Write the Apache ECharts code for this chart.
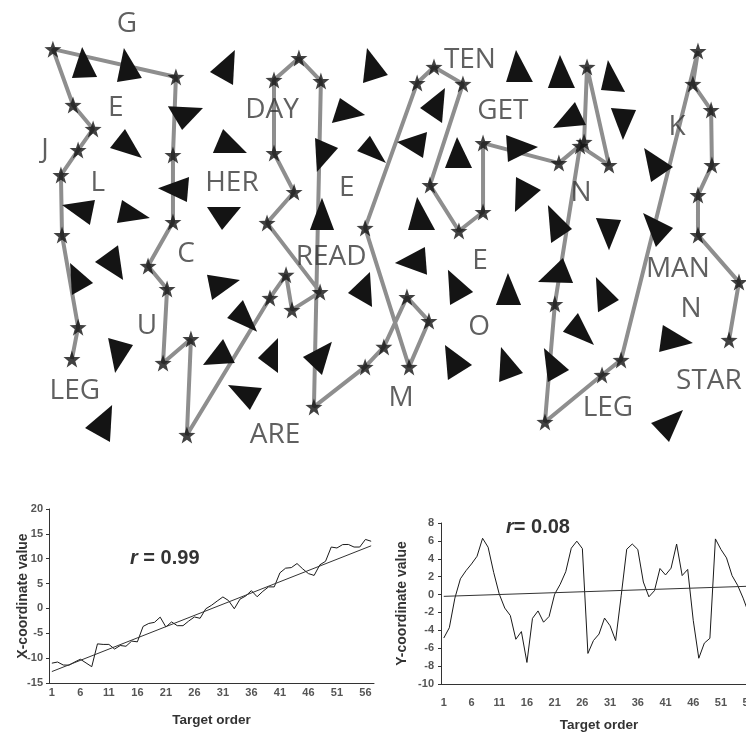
<!DOCTYPE html>
<html><head><meta charset="utf-8">
<script src="https://cdn.jsdelivr.net/npm/echarts@6/dist/echarts.min.js"></script>
<style>html,body{margin:0;padding:0;background:#fff}#c{width:746px;height:736px}</style>
</head><body><div id="c"></div>
<script>
// Target order (categories)
const targetOrder = ['1','2','3','4','5','6','7','8','9','10','11','12','13','14','15','16','17','18','19','20',
  '21','22','23','24','25','26','27','28','29','30','31','32','33','34','35','36','37','38','39','40',
  '41','42','43','44','45','46','47','48','49','50','51','52','53','54','55','56','57'];
// X-coordinate value of each target, in order
const targetX = [-11.01,-10.78,-11.38,-11.42,-10.78,-10.22,-10.97,-11.72,-7.13,-7.24,-7.24,-8.17,-7.46,-7.61,-6.57,-6.72,
  -3.62,-3.02,-2.80,-1.75,-3.73,-2.72,-3.47,-3.47,-2.54,-1.72,-1.98,-0.07,0.63,1.49,2.31,1.57,-0.07,1.87,2.50,3.58,
  2.35,3.43,4.33,4.33,7.16,8.10,8.21,9.03,7.95,7.01,6.64,8.77,9.48,12.35,12.16,12.84,12.87,12.35,12.35,13.88,13.51];
// Y-coordinate value of each target, in order
const targetY = [-4.86,-3.71,-0.40,1.76,2.66,3.42,4.28,6.29,5.29,2.48,0.07,-1.51,-2.34,-5.00,-4.14,-7.59,
  -2.66,-1.83,-3.09,-2.45,0.04,1.15,2.55,5.18,5.97,5.14,-6.58,-5.14,-4.42,-2.63,-3.49,-5.14,-0.14,5.07,5.65,5.04,
  1.40,-0.25,0.43,2.91,2.19,2.95,5.65,2.12,2.81,-2.88,-7.12,-5.43,-4.89,6.22,5.04,4.10,2.12,1.04,-0.40,-2.09,-4.17];
// Distractor triangles: three vertices [x1,y1,x2,y2,x3,y3] in display coordinates
const triangles = [
  [-10.63,6.37,-11.01,5.25,-10.07,5.29],
  [-9.07,6.33,-9.33,5.11,-8.40,5.25],
  [-4.93,6.26,-5.86,5.47,-5.00,5.00],
  [-7.43,4.24,-6.12,4.17,-6.90,3.38],
  [-9.03,3.42,-9.59,2.73,-8.40,2.37],
  [-5.37,3.42,-5.75,2.55,-4.48,2.55],
  [-7.80,1.29,-6.64,1.69,-6.72,0.79],
  [-11.38,0.68,-10.15,0.86,-10.34,-0.04],
  [-9.14,0.86,-9.33,0.04,-8.10,0.22],
  [-5.97,0.61,-4.70,0.61,-5.41,-0.22],
  [0.00,6.33,0.78,5.36,-0.15,5.07],
  [-1.01,4.53,-0.07,3.92,-1.31,3.63],
  [-1.94,3.09,-1.08,2.73,-1.87,1.87],
  [0.11,3.17,-0.37,2.63,0.71,2.19],
  [-1.68,0.94,-2.13,-0.22,-1.23,-0.22],
  [2.91,4.89,1.98,4.17,2.80,3.63],
  [2.24,3.31,1.12,2.95,2.09,2.37],
  [3.36,3.13,2.91,2.01,3.92,2.01],
  [1.87,0.97,1.53,-0.22,2.54,-0.22],
  [5.56,6.26,5.19,5.11,6.19,5.11],
  [7.20,6.08,6.75,4.89,7.76,4.89],
  [8.99,5.90,8.73,4.82,9.63,4.75],
  [7.76,4.39,6.94,3.45,8.17,3.56],
  [9.10,4.17,10.04,4.10,9.55,3.02],
  [5.19,3.20,6.38,2.77,5.26,2.23],
  [5.56,1.69,6.49,1.22,5.52,0.43],
  [6.75,0.68,7.65,-0.18,6.87,-0.68],
  [8.54,0.22,9.48,0.14,9.03,-0.94],
  [10.34,2.73,11.42,2.05,10.60,1.51],
  [10.30,0.40,11.42,-0.14,10.78,-0.83],
  [7.31,-1.22,6.38,-2.09,7.69,-2.12],
  [5.26,-1.76,4.81,-2.91,5.75,-2.91],
  [8.54,-1.91,9.40,-2.73,8.62,-3.17],
  [7.87,-3.20,7.31,-3.88,8.47,-4.35],
  [5.00,-4.42,5.82,-5.36,4.93,-5.68],
  [6.60,-4.46,7.54,-5.25,6.75,-5.68],
  [11.04,-3.63,12.16,-4.28,10.90,-4.60],
  [11.79,-6.69,10.60,-7.16,11.27,-7.84],
  [0.11,-1.73,-0.71,-2.48,0.19,-2.99],
  [2.16,-0.83,1.04,-1.40,2.24,-1.83],
  [3.02,-1.65,3.96,-2.45,3.10,-2.91],
  [-3.32,-4.10,-4.07,-4.82,-3.32,-5.36],
  [-1.31,-4.24,-2.39,-4.78,-1.68,-5.43],
  [2.91,-4.35,3.92,-5.07,3.02,-5.61],
  [-11.08,-1.40,-10.22,-2.12,-11.01,-2.55],
  [-9.29,-0.76,-10.15,-1.37,-9.10,-2.01],
  [-9.66,-4.10,-8.73,-4.35,-9.40,-5.36],
  [-9.51,-6.51,-10.52,-7.34,-9.59,-7.84],
  [-5.97,-1.83,-4.74,-2.01,-5.78,-2.73],
  [-4.63,-2.73,-5.22,-3.38,-4.10,-3.88],
  [-5.37,-4.14,-6.12,-5.07,-4.93,-5.00],
  [-5.19,-5.79,-3.92,-5.90,-4.37,-6.69]
];
// Words printed in the display
const wordText = ['G','E','J','L','DAY','HER','E','C','U','LEG','ARE','READ','TEN','GET','N','K','E','M','O','MAN','N','STAR','LEG'];
const wordX = [-8.96,-9.37,-12.01,-10.04,-3.54,-5.04,-0.75,-6.75,-8.21,-10.90,-3.43,-1.34,3.84,5.07,7.99,11.57,4.22,1.27,4.18,11.60,12.09,12.76,8.99];
const wordY = [7.23,4.21,2.73,1.51,4.17,1.51,1.33,-1.01,-3.60,-5.94,-7.55,-1.15,5.97,4.10,1.15,3.56,-1.29,-6.22,-3.67,-1.58,-3.02,-5.58,-6.55];
// Linear trend lines
const trendXLine = [['1', -12.7], ['57', 12.6]];
const trendYLine = [['1', -0.2], ['57', 0.95]];
const rX = 'r = 0.99';
const rY = 'r= 0.08';

const STAR = 'path://M50,0 L61.76,33.82 L97.55,34.55 L69.02,56.18 L79.39,90.45 L50,70 L20.61,90.45 L30.98,56.18 L2.45,34.55 L38.24,33.82 Z';
const chart = echarts.init(document.getElementById('c'), null, {renderer: 'canvas'});
const pathData = targetX.map((x, i) => [x, targetY[i]]);
const wordData = wordX.map((x, i) => ({name: wordText[i], value: [x, wordY[i]]}));
const axisFont = 'Liberation Sans, Arial, sans-serif';
const tickLabel = {fontFamily: axisFont, fontSize: 11, fontWeight: 'bold', color: '#555'};
const nameStyle = {fontFamily: axisFont, fontSize: 14, fontWeight: 'bold', color: '#333'};

const option = {
  animation: false,
  backgroundColor: '#fff',
  title: [
    {text: '{i|r}' + rX.slice(1), left: 125, top: 543,
     textStyle: {fontFamily: axisFont, fontSize: 20, fontWeight: 'bold', color: '#333',
       rich: {i: {fontFamily: axisFont, fontSize: 20, fontWeight: 'bold', fontStyle: 'italic', color: '#333'}}}},
    {text: '{i|r}' + rY.slice(1), left: 501, top: 512,
     textStyle: {fontFamily: axisFont, fontSize: 20, fontWeight: 'bold', color: '#333',
       rich: {i: {fontFamily: axisFont, fontSize: 20, fontWeight: 'bold', fontStyle: 'italic', color: '#333'}}}}
  ],
  grid: [
    {left: 5.2, top: 1.6, width: 737, height: 458.7, outerBoundsMode: 'none'},
    {left: 49, top: 509, width: 325, height: 174, outerBoundsMode: 'none'},
    {left: 441, top: 523, width: 316, height: 161, outerBoundsMode: 'none'}
  ],
  xAxis: [
    {gridIndex: 0, type: 'value', min: -13.5, max: 14, show: false},
    {gridIndex: 1, type: 'category', data: targetOrder, boundaryGap: true,
     axisLine: {onZero: false, lineStyle: {color: '#333', width: 1}},
     axisTick: {interval: 0, length: 4, lineStyle: {color: '#333'}},
     axisLabel: Object.assign({interval: 4, margin: 4}, tickLabel),
     name: 'Target order', nameLocation: 'middle', nameGap: 30, nameMoveOverlap: false,
     nameTextStyle: Object.assign({}, nameStyle, {fontSize: 13.5})},
    {gridIndex: 2, type: 'category', data: targetOrder, boundaryGap: true,
     axisLine: {onZero: false, lineStyle: {color: '#333', width: 1}},
     axisTick: {interval: 0, length: 4, lineStyle: {color: '#333'}},
     axisLabel: Object.assign({interval: 4, margin: 13}, tickLabel),
     name: 'Target order', nameLocation: 'middle', nameGap: 34, nameMoveOverlap: false,
     nameTextStyle: Object.assign({}, nameStyle, {fontSize: 13.5})}
  ],
  yAxis: [
    {gridIndex: 0, type: 'value', min: -8.5, max: 8, show: false},
    {gridIndex: 1, type: 'value', min: -15, max: 20, interval: 5,
     axisLine: {show: true, onZero: false, lineStyle: {color: '#333'}}, axisTick: {show: true, length: 3, lineStyle: {color: '#333'}},
     splitLine: {show: false}, axisLabel: Object.assign({margin: 6}, tickLabel),
     name: 'X-coordinate value', nameLocation: 'middle', nameGap: 19, nameMoveOverlap: false, nameTextStyle: nameStyle},
    {gridIndex: 2, type: 'value', min: -10, max: 8, interval: 2,
     axisLine: {show: true, onZero: false, lineStyle: {color: '#333'}}, axisTick: {show: true, length: 3, lineStyle: {color: '#333'}},
     splitLine: {show: false}, axisLabel: Object.assign({margin: 7}, tickLabel),
     name: 'Y-coordinate value', nameLocation: 'middle', nameGap: 32, nameMoveOverlap: false, nameTextStyle: nameStyle}
  ],
  series: [
    {type: 'line', xAxisIndex: 0, yAxisIndex: 0, data: pathData, showSymbol: false, symbol: 'none', clip: false, z: 2,
     lineStyle: {color: '#8e8e8e', width: 4}},
    {type: 'custom', xAxisIndex: 0, yAxisIndex: 0, data: triangles, clip: false, z: 3,
     encode: {x: [0, 2, 4], y: [1, 3, 5]},
     renderItem: function (params, api) {
       const pts = [];
       for (let k = 0; k < 3; k++) pts.push(api.coord([api.value(2 * k), api.value(2 * k + 1)]));
       return {type: 'polygon', shape: {points: pts}, style: {fill: '#141414'}};
     }},
    {type: 'scatter', xAxisIndex: 0, yAxisIndex: 0, data: pathData, symbol: STAR, symbolSize: 17, clip: false, z: 4,
     itemStyle: {color: '#121212'}},
    {type: 'scatter', xAxisIndex: 0, yAxisIndex: 0, data: wordData, symbolSize: 1, clip: false, z: 5,
     itemStyle: {color: 'rgba(0,0,0,0)'},
     label: {show: true, position: 'inside', offset: [0, 1.5], formatter: '{b}', fontFamily: 'Open Sans', fontSize: 28, color: '#383838'}},
    {type: 'line', xAxisIndex: 1, yAxisIndex: 1, data: targetX, symbol: 'none', lineStyle: {color: '#1a1a1a', width: 1}},
    {type: 'line', xAxisIndex: 1, yAxisIndex: 1, data: trendXLine, symbol: 'none', lineStyle: {color: '#333', width: 1}},
    {type: 'line', xAxisIndex: 2, yAxisIndex: 2, data: targetY, symbol: 'none', lineStyle: {color: '#1a1a1a', width: 1}},
    {type: 'line', xAxisIndex: 2, yAxisIndex: 2, data: trendYLine, symbol: 'none', lineStyle: {color: '#333', width: 1}}
  ]
};
chart.setOption(option);
</script></body></html>
